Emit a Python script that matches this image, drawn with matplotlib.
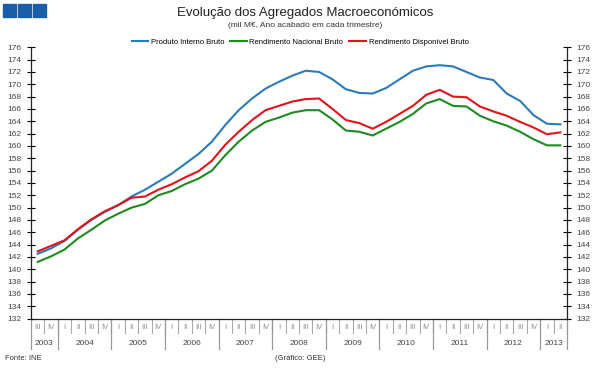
import matplotlib
matplotlib.use("Agg")
from matplotlib import pyplot as plt
from matplotlib.patches import Rectangle
import matplotlib.transforms as mtransforms
import numpy as np

plt.rcParams['font.family'] = ['Liberation Sans', 'DejaVu Sans']

# quarters from 2003 III to 2013 II
quarters = ['III', 'IV'] + ['I', 'II', 'III', 'IV'] * 9 + ['I', 'II']
years = ['2003', '2004', '2005', '2006', '2007', '2008', '2009', '2010', '2011', '2012', '2013']
year_counts = [2, 4, 4, 4, 4, 4, 4, 4, 4, 4, 2]

pib = [142.5, 143.4, 144.6, 146.4, 148.0, 149.3, 150.4, 151.8, 152.9, 154.2,
       155.5, 157.1, 158.7, 160.7, 163.4, 165.8, 167.7, 169.3, 170.4, 171.4,
       172.2, 172.0, 170.8, 169.2, 168.6, 168.5, 169.4, 170.8, 172.2, 172.9,
       173.1, 172.9, 172.0, 171.1, 170.7, 168.5, 167.3, 165.0, 163.6, 163.5]
rnb = [141.2, 142.1, 143.2, 145.0, 146.4, 147.9, 149.0, 150.0, 150.6, 152.0,
       152.7, 153.8, 154.7, 156.0, 158.5, 160.7, 162.5, 163.9, 164.6, 165.4,
       165.8, 165.8, 164.3, 162.5, 162.3, 161.7, 162.8, 163.9, 165.2, 166.9,
       167.6, 166.5, 166.4, 164.9, 164.0, 163.3, 162.3, 161.1, 160.1, 160.1]
rdb = [142.9, 143.8, 144.7, 146.5, 148.1, 149.4, 150.4, 151.6, 151.8, 152.9,
       153.8, 154.9, 155.9, 157.6, 160.2, 162.3, 164.2, 165.8, 166.5, 167.2,
       167.6, 167.7, 166.0, 164.2, 163.7, 162.8, 163.9, 165.2, 166.5, 168.3,
       169.1, 168.0, 167.9, 166.4, 165.6, 164.9, 163.9, 163.0, 161.9, 162.2]

series = [
    ('Produto Interno Bruto', pib, '#2a7bbd'),
    ('Rendimento Nacional Bruto', rnb, '#1e8a22'),
    ('Rendimento Disponível Bruto', rdb, '#e3121b'),
]

fig = plt.figure(figsize=(6.11, 3.69), dpi=100)
ax = fig.add_axes([31 / 611, 1 - 318.6 / 369, 536 / 611, 271.3 / 369])

x = np.arange(len(quarters))
for name, vals, col in series:
    ax.plot(x, vals, color=col, lw=1.5, label=name)

ax.set_xlim(-0.5, len(quarters) - 0.5)
ax.set_ylim(132, 176)
ax.set_yticks(np.arange(132, 177, 2))
ax.tick_params(axis='y', which='both', direction='inout', length=6, width=0.8,
               labelsize=6, labelcolor='#444444', left=True, right=True,
               labelleft=True, labelright=True, pad=4)
ax.set_xticks([])
ax.spines['top'].set_visible(False)
for s in ['left', 'right', 'bottom']:
    ax.spines[s].set_color('#222222')
    ax.spines[s].set_linewidth(0.9)

# two level category axis
trans = mtransforms.blended_transform_factory(ax.transData, ax.transAxes)
px = 1 / 271.3
for i, q in enumerate(quarters):
    ax.text(i, -8.5 * px, q, transform=trans, ha='center', va='center',
            fontsize=5.5, color='#888888', clip_on=False)
    ax.plot([i + 0.5, i + 0.5], [0, -14 * px], transform=trans, color='#aaaaaa',
            lw=0.8, clip_on=False)
start = -0.5
ax.plot([start, start], [0, -30 * px], transform=trans, color='#999999', lw=0.9, clip_on=False)
for yr, n in zip(years, year_counts):
    end = start + n
    ax.text((start + end) / 2, -24.5 * px, yr, transform=trans, ha='center', va='center',
            fontsize=6, color='#444444', clip_on=False)
    ax.plot([end, end], [0, -30 * px], transform=trans, color='#999999', lw=0.9, clip_on=False)
    start = end

# header
for k in range(3):
    fig.patches.append(Rectangle(((3 + k * 15) / 611, 1 - 17 / 369), 13 / 611, 13 / 369,
                                 transform=fig.transFigure, color='#1b5ea8'))
fig.text(305 / 611, 1 - 13 / 369, 'Evolução dos Agregados Macroeconómicos',
         ha='center', va='center', fontsize=9.5, color='#222222')
fig.text(305 / 611, 1 - 25.5 / 369, '(mil M€, Ano acabado em cada trimestre)',
         ha='center', va='center', fontsize=6, color='#333333')
fig.legend(loc='center', bbox_to_anchor=(300 / 611, 1 - 42 / 369), ncol=3, frameon=False,
           fontsize=5.5, handlelength=2.2, handletextpad=0.3, columnspacing=0.8,
           borderaxespad=0)

fig.text(5 / 611, 1 - 358 / 369, 'Fonte: INE', ha='left', va='center', fontsize=5.5, color='#333333')
fig.text(275 / 611, 1 - 358 / 369, '(Gráfico: GEE)', ha='left', va='center', fontsize=5.5,
         color='#333333')

fig.savefig('out.png', dpi=100)
